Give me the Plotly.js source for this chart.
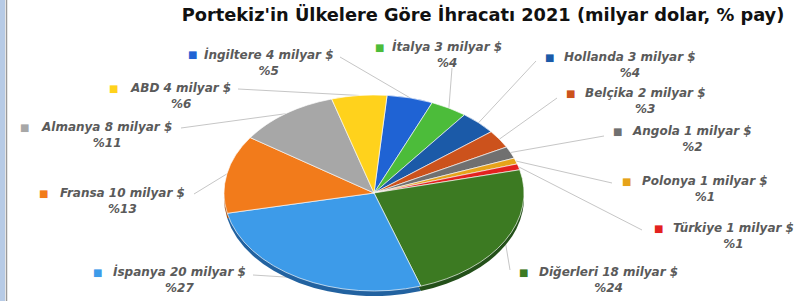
<!DOCTYPE html>
<html><head><meta charset="utf-8">
<script src="https://cdn.plot.ly/plotly-3.0.1.min.js"></script>
<style>html,body{margin:0;padding:0;background:#fff;overflow:hidden}#chart{width:796px;height:301px}</style>
</head><body><div id="chart"></div>
<script>
// ---- data ----
const countries = ['İngiltere','İtalya','Hollanda','Belçika','Angola','Polonya','Türkiye','Diğerleri','İspanya','Fransa','Almanya','ABD'];
const exportBn  = [4, 3, 3, 2, 1, 1, 1, 18, 20, 10, 8, 4];
const sharePct  = [5, 4, 4, 3, 2, 1, 1, 24, 27, 13, 11, 6];

// ---- styles ----
const colors     = ['#1f63d4','#4cbc3a','#1b5aa8','#cc521c','#707070','#e6a31a','#e3211f','#3c7a22','#3d9be9','#f27b1b','#a7a7a7','#ffd21c'];
const sideColors = ['#123f8a','#2f7a24','#10386a','#83340f','#474747','#96690f','#911411','#24501a','#2262a0','#a34e0f','#6b6b6b','#a88a10'];

// ---- layout geometry (pixels) ----
const W = 796, H = 301, CX = 374, CY = 193, RX = 150, RY = 98, ROT = 5, DEPTH = 5;
// label placement: [text centre x, first line y, square x, leader start x, leader start y]
const labelPos = [
  [269, 55, 192, 340, 57],
  [447, 47, 379, 452, 68],
  [630, 57, 549, 536, 61],
  [645, 93, 570, 557, 98],
  [692, 131, 617, 604, 136],
  [705, 181, 626, 612, 183],
  [733, 228, 658, 642, 230],
  [608, 272, 523, 510, 270],
  [179, 272, 97, 253, 275],
  [122, 193, 43, 194, 194],
  [106, 127, 24, 181, 128],
  [180, 88, 113, 238, 89]
];

const px = x => x / W;
const py = y => 1 - y / H;
const k = RY / RX;

const pieDomain = {x: [px(CX - RX), px(CX + RX)], y: [(H / 2 - RX) / H, (H / 2 + RX) / H]};
const baseTrace = {
  type: 'pie', labels: countries, values: sharePct, sort: false,
  direction: 'clockwise', rotation: ROT, domain: pieDomain,
  textinfo: 'none', hoverinfo: 'label+value', showlegend: false
};
const sidePie = Object.assign({}, baseTrace, {marker: {colors: sideColors, line: {color: 'rgba(0,0,0,0)', width: 0}}});
const topPie  = Object.assign({}, baseTrace, {marker: {colors: colors, line: {color: '#ffffff', width: 0.8}}});

const total = sharePct.reduce((a, b) => a + b, 0);
const labelFont = {family: 'DejaVu Sans, Verdana, sans-serif', size: 12, color: '#5a5a5a', weight: 'bold', style: 'italic'};
const annotations = [];
const shapes = [
  {type: 'rect', xref: 'paper', yref: 'paper', x0: 0, x1: px(5), y0: 0, y1: 1, fillcolor: '#b7cbe6', line: {width: 0}},
  {type: 'line', xref: 'paper', yref: 'paper', x0: px(6.5), x1: px(6.5), y0: 0, y1: 1, line: {color: '#9a9a9a', width: 1.5}}
];
let cum = 0;
countries.forEach((c, i) => {
  const mid = (ROT + (cum + sharePct[i] / 2) / total * 360) * Math.PI / 180;
  cum += sharePct[i];
  const ex = CX + RX * Math.sin(mid), ey = CY - RY * Math.cos(mid);
  const [tx, ty, sx, lx, ly] = labelPos[i];
  shapes.push({type: 'line', layer: 'below', xref: 'paper', yref: 'paper',
    x0: px(lx), y0: py(ly), x1: px(ex), y1: py(ey), line: {color: '#c6c6c6', width: 1}});
  annotations.push({xref: 'paper', yref: 'paper', x: px(tx), y: py(ty + 7.5), xanchor: 'center', yanchor: 'middle',
    showarrow: false, align: 'center', text: c + ' ' + exportBn[i] + ' milyar $<br>%' + sharePct[i], font: labelFont});
  annotations.push({xref: 'paper', yref: 'paper', x: px(sx), y: py(ty), xanchor: 'center', yanchor: 'middle',
    showarrow: false, text: '■', font: {family: 'DejaVu Sans', size: 10, color: colors[i]}});
});

const layout = {
  width: W, height: H, margin: {l: 0, r: 0, t: 0, b: 0},
  paper_bgcolor: '#ffffff', plot_bgcolor: '#ffffff',
  title: {text: "Portekiz'in Ülkelere Göre İhracatı 2021 (milyar dolar, % pay)",
    font: {family: 'DejaVu Sans, Verdana, sans-serif', size: 17.8, weight: 'bold', color: '#111111'},
    x: px(483), xanchor: 'center', xref: 'paper', y: 1 - 15 / H, yanchor: 'middle', yref: 'container'},
  annotations: annotations, shapes: shapes, showlegend: false
};

Plotly.newPlot('chart', [sidePie, topPie], layout, {staticPlot: true, displayModeBar: false}).then(gd => {
  const traces = gd.querySelectorAll('.pielayer g.trace');
  traces.forEach((g, idx) => {
    const dy = (idx === 0 ? CY + DEPTH : CY) - k * (H / 2);
    g.setAttribute('transform', 'translate(0,' + dy + ') scale(1,' + k + ')');
  });
});
</script>
</body></html>
